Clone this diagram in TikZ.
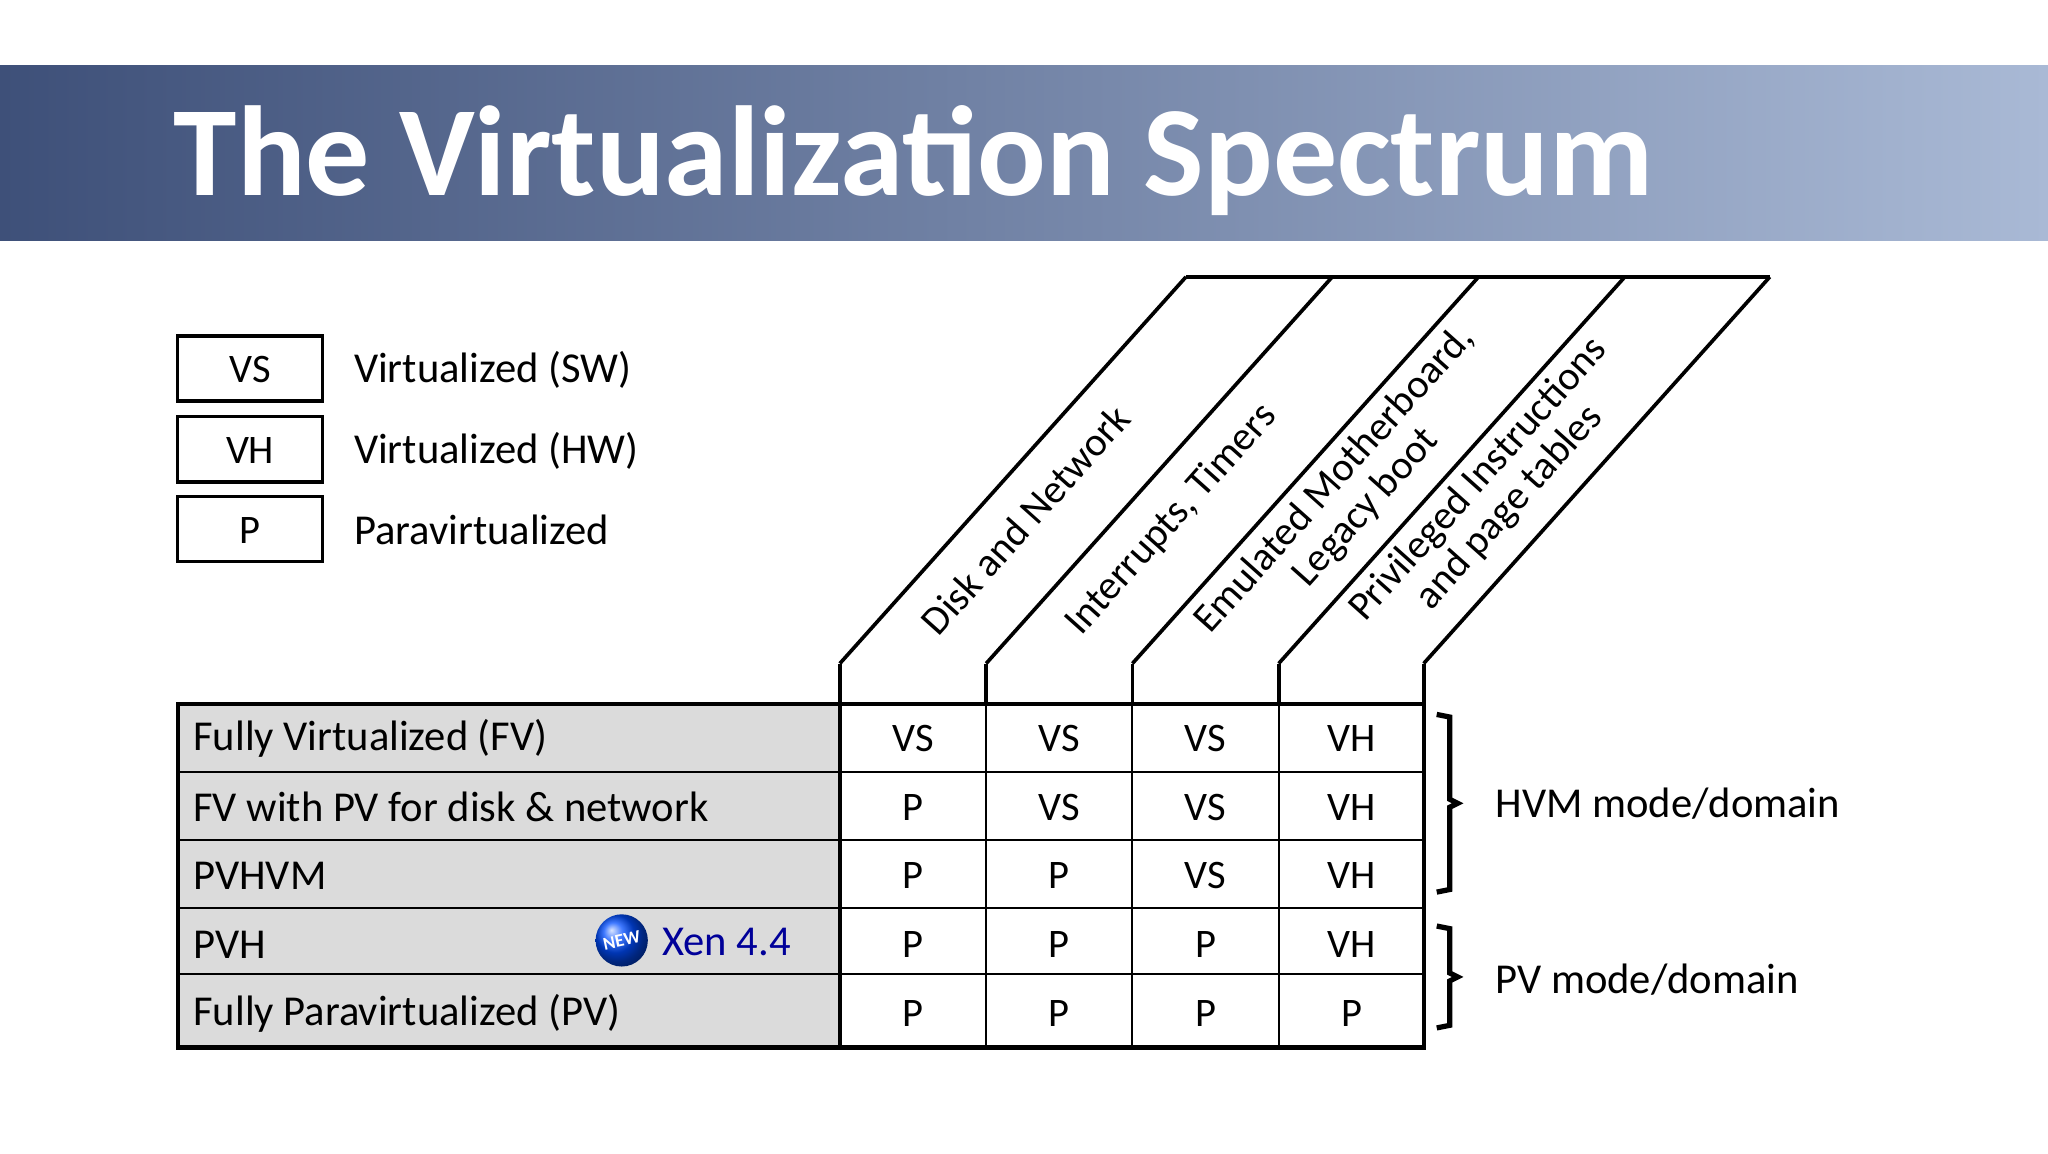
\documentclass[tikz,border=0pt]{standalone}
\usepackage{fontspec}
\setmainfont{Carlito}
\begin{document}
\begin{tikzpicture}[x=0.5pt,y=-0.5pt,
  cell/.style={anchor=center,font=\fontsize{15.5}{18}\selectfont},
  lab/.style={anchor=west,font=\fontsize{16.3}{18}\selectfont},
  hdr/.style={rotate=48.2,anchor=center,align=center,inner sep=0pt,font=\fontsize{15.5}{16}\selectfont},
  leg/.style={draw,line width=1.4pt}]
\useasboundingbox (0,0) rectangle (1568,882.8);
\fill[white] (0,0) rectangle (1568,882.8);
\definecolor{tl}{HTML}{3E5079}\definecolor{tr}{HTML}{A9B9D5}
\shade[left color=tl,right color=tr] (0,50) rectangle (1568,184);
\node[anchor=base west,text=white,font=\fontsize{49}{52}\selectfont\bfseries] (title) at (126,150) {The Virtualization Spectrum};
% legend
\foreach \t/\y/\d [count=\i] in {VS/257/Virtualized (SW),VH/319/Virtualized (HW),P/380/Paravirtualized}{
  \draw[leg] (136,\y) rectangle (247,\y+50);
  \node[cell] (lk\i) at (191.5,\y+26) {\t};
  \node[lab] (ld\i) at (264,\y+26) {\d};
}
% table
\fill[gray!28] (136,539) rectangle (643,802);
\foreach \y in {591,643,695,746} \draw[line width=0.8pt] (136,\y) -- (1090,\y);
\foreach \x in {755,867,979} \draw[line width=0.8pt] (\x,508) -- (\x,802);
\draw[line width=1.4pt] (643,508) -- (643,802);
\draw[line width=1.4pt] (1090,508) -- (1090,802);
\draw[line width=1.6pt] (136,539) rectangle (1090,802);
% slanted headers
\foreach \x in {643,755,867,979,1090} \draw[line width=1.4pt] (\x,508) -- (\x+265,212);
\foreach \x in {755,867,979} \draw[line width=1.4pt] (\x,508) -- (\x,539);
\draw[line width=1.4pt] (908,212) -- (1355,212);
\node[hdr] (h1) at (785,398) {Disk and Network};
\node[hdr] (h2) at (897,398) {Interrupts, Timers};
\node[hdr] (h3) at (1034,378) {Emulated Motherboard,\\Legacy boot};
\node[hdr] (h4) at (1144,378) {Privileged Instructions\\and page tables};
% rows
\foreach \name/\a/\b/\c/\d [count=\r] in {Fully Virtualized (FV)/VS/VS/VS/VH, FV with PV for disk \& network/P/VS/VS/VH, PVHVM/P/P/VS/VH, PVH/P/P/P/VH, Fully Paravirtualized (PV)/P/P/P/P}{
  \pgfmathsetmacro\yy{539+(\r-0.5)*52.6}
  \node[lab] (r\r) at (141,\yy) {\name};
  \node[cell] (c\r a) at (699,\yy) {\a};
  \node[cell] (c\r b) at (811,\yy) {\b};
  \node[cell] (c\r c) at (923,\yy) {\c};
  \node[cell] (c\r d) at (1035,\yy) {\d};
}
% NEW badge
\shade[ball color=blue!70!cyan] (476,720) circle (20);
\node[text=white,font=\fontsize{7}{8}\selectfont\bfseries,rotate=12] (nw) at (476,720) {NEW};
\node[lab,text=blue!60!black] (xen) at (500,721) {Xen 4.4};
% braces
\draw[line width=2pt] (1100,547) -- (1110,549) -- (1110,612) -- (1116,615) -- (1110,618) -- (1110,681) -- (1100,683);
\draw[line width=2pt] (1100,709) -- (1110,711) -- (1110,745) -- (1116,748) -- (1110,751) -- (1110,785) -- (1100,787);
\node[lab] (hvm) at (1138,615) {HVM mode/domain};
\node[lab] (pv) at (1138,750) {PV mode/domain};
\end{tikzpicture}
\end{document}
